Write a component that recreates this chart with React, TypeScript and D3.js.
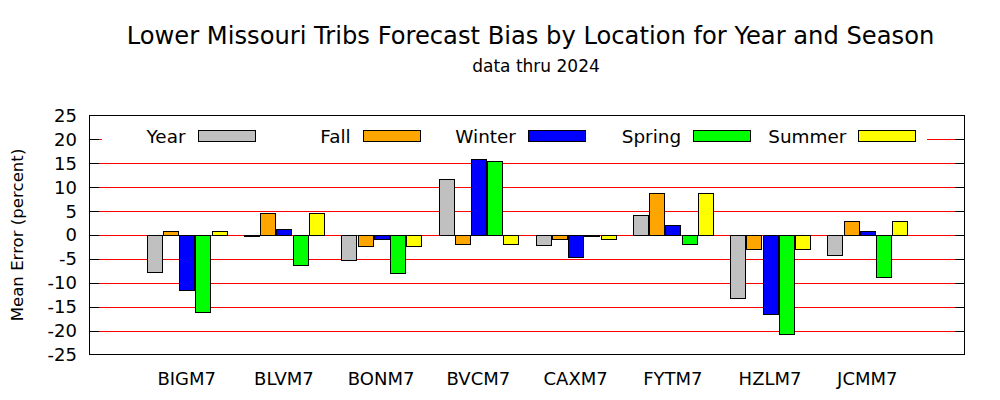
import React from "react";
import * as d3 from "d3";

const title = "Lower Missouri Tribs Forecast Bias by Location for Year and Season";
const subtitle = "data thru 2024";
const yLabel = "Mean Error (percent)";

const locations = ["BIGM7", "BLVM7", "BONM7", "BVCM7", "CAXM7", "FYTM7", "HZLM7", "JCMM7"];
const seriesNames = ["Year", "Fall", "Winter", "Spring", "Summer"];
const seriesColors = ["#c0c0c0", "#ffa500", "#0000ff", "#00ff00", "#ffff00"];

const yearVals = [-7.8, -0.3, -5.3, 11.8, -2.0, 4.1, -13.1, -4.1];
const fallVals = [0.9, 4.5, -2.4, -1.8, -0.9, 8.7, -3.0, 3.0];
const winterVals = [-11.6, 1.3, -0.9, 16.0, -4.5, 2.0, -16.6, 0.9];
const springVals = [-16.2, -6.2, -8.0, 15.4, -0.3, -1.8, -20.8, -8.7];
const summerVals = [0.9, 4.5, -2.4, -1.8, -0.9, 8.7, -3.0, 3.0];

const yTicks = [25, 20, 15, 10, 5, 0, -5, -10, -15, -20, -25];

const W = 1000;
const H = 400;
const left = 89.5;
const right = 964.5;
const top = 115.5;
const bottom = 354.5;

export default function App() {
  const series = [yearVals, fallVals, winterVals, springVals, summerVals];
  const x = d3.scaleLinear().domain([0, locations.length + 1]).range([left, right]);
  const y = d3.scaleLinear().domain([-25, 25]).range([bottom, top]);
  const step = x(1) - x(0);
  const slot = step / 6;
  const barW = slot * 0.92;
  const font = "DejaVu Sans";

  const legendX0 = 197.5;
  const legendStep = 165.2;

  return (
    <svg
      width={W}
      height={H}
      style={{ position: "absolute", left: 0, top: 0, background: "#fff" }}
      fontFamily={font}
    >
      <rect x={0} y={0} width={W} height={H} fill="#fff" />
      <text x={530.5} y={44} fontSize={24.2} textAnchor="middle" fill="#000">
        {title}
      </text>
      <text x={536} y={72} fontSize={17} textAnchor="middle" fill="#000">
        {subtitle}
      </text>

      {/* grid lines */}
      <g shapeRendering="crispEdges">
        {yTicks.map((t) => {
          const yy = Math.round(y(t)) + 0.5;
          if (t === 25 || t === -25) return null;
          return (
            <line
              key={"g" + t}
              x1={left}
              x2={right}
              y1={yy}
              y2={yy}
              style={{ stroke: "#ff0000", strokeWidth: 1 }}
            />
          );
        })}
        {yTicks.map((t) => {
          const yy = Math.round(y(t)) + 0.5;
          if (t === 25 || t === -25) return null;
          return (
            <g key={"k" + t}>
              <line x1={left} x2={left + 9.5} y1={yy} y2={yy} style={{ stroke: "#000000", strokeWidth: 1 }} />
              <line x1={right - 9.5} x2={right} y1={yy} y2={yy} style={{ stroke: "#000000", strokeWidth: 1 }} />
            </g>
          );
        })}
      </g>

      {/* y tick labels */}
      {yTicks.map((t) => (
        <text
          key={"t" + t}
          x={77}
          y={y(t)}
          dy="0.36em"
          fontSize={18}
          textAnchor="end"
          fill="#000"
        >
          {t}
        </text>
      ))}

      {/* y label */}
      <text
        transform={`translate(23,${(top + bottom) / 2}) rotate(-90)`}
        fontSize={16.6}
        textAnchor="middle"
        fill="#000"
      >
        {yLabel}
      </text>

      {/* bars */}
      <g shapeRendering="crispEdges">
        {locations.map((loc, i) =>
          series.map((vals, j) => {
            const v = vals[i];
            const cx = x(i + 1) + (j - 2) * slot;
            const y0 = y(0);
            const y1 = y(v);
            return (
              <rect
                key={loc + j}
                x={Math.round(cx - barW / 2) + 0.5}
                y={Math.round(Math.min(y0, y1)) + 0.5}
                width={Math.round(barW)}
                height={Math.max(1, Math.round(Math.abs(y1 - y0)))}
                fill={seriesColors[j]}
                stroke="#000"
                strokeWidth={1}
              />
            );
          })
        )}
      </g>

      {/* legend */}
      <rect x={102} y={124} width={825} height={24} fill="#fff" />
      {seriesNames.map((name, j) => {
        const sx = legendX0 + j * legendStep;
        return (
          <g key={"l" + name}>
            <text x={sx - 12} y={142.5} fontSize={18.4} textAnchor="end" fill="#000">
              {name}
            </text>
            <rect
              x={Math.round(sx) + 0.5}
              y={130.5}
              width={57}
              height={11}
              fill={seriesColors[j]}
              stroke="#000"
              strokeWidth={1}
              shapeRendering="crispEdges"
            />
          </g>
        );
      })}

      {/* x labels */}
      {locations.map((loc, i) => (
        <text key={"x" + loc} x={x(i + 1)} y={384.5} fontSize={18} textAnchor="middle" fill="#000">
          {loc}
        </text>
      ))}

      {/* border */}
      <rect
        x={left}
        y={top}
        width={right - left}
        height={bottom - top}
        fill="none"
        stroke="#000"
        strokeWidth={1}
        shapeRendering="crispEdges"
      />
    </svg>
  );
}
